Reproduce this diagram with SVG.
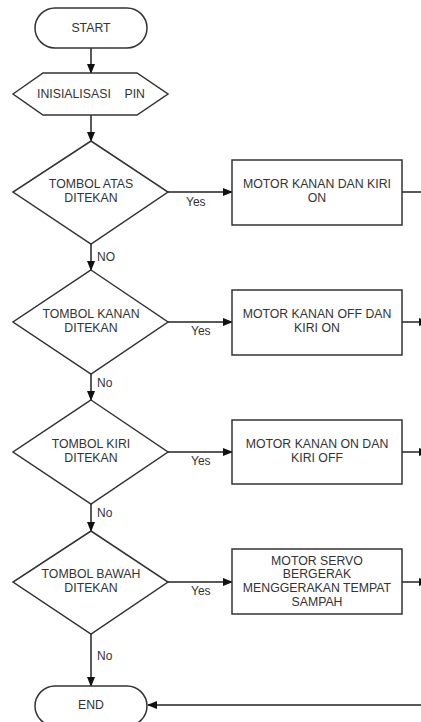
<svg xmlns="http://www.w3.org/2000/svg" width="421" height="722" viewBox="0 0 421 722">
<defs>
<style>
.s{fill:#fff;stroke:#333;stroke-width:1.5}
.t{font-family:"Liberation Sans",Arial,sans-serif;font-size:12.3px;fill:#333;text-anchor:middle}
.l{font-family:"Liberation Sans",Arial,sans-serif;font-size:12px;fill:#333}
.c{fill:none;stroke:#222;stroke-width:1.5}
</style>
<marker id="a" markerWidth="10" markerHeight="8" refX="9" refY="4" orient="auto" markerUnits="userSpaceOnUse">
<path d="M0,0 L10,4 L0,8 Z" fill="#111"/>
</marker>
</defs>
<rect width="421" height="722" fill="#fff"/>
<g id="connectors">
<line class="c" x1="91" y1="48" x2="91" y2="73" marker-end="url(#a)"/>
<line class="c" x1="91" y1="115" x2="91" y2="141" marker-end="url(#a)"/>
<line class="c" x1="168" y1="192" x2="232" y2="192" marker-end="url(#a)"/>
<line class="c" x1="402" y1="192" x2="422" y2="192"/>
<line class="c" x1="91" y1="244" x2="91" y2="270" marker-end="url(#a)"/>
<line class="c" x1="168" y1="322" x2="232" y2="322" marker-end="url(#a)"/>
<line class="c" x1="402" y1="322" x2="428" y2="322" marker-end="url(#a)"/>
<line class="c" x1="91" y1="374" x2="91" y2="400" marker-end="url(#a)"/>
<line class="c" x1="168" y1="452" x2="232" y2="452" marker-end="url(#a)"/>
<line class="c" x1="402" y1="452" x2="428" y2="452" marker-end="url(#a)"/>
<line class="c" x1="91" y1="504" x2="91" y2="531" marker-end="url(#a)"/>
<line class="c" x1="168" y1="582" x2="232" y2="582" marker-end="url(#a)"/>
<line class="c" x1="402" y1="582" x2="428" y2="582" marker-end="url(#a)"/>
<line class="c" x1="91" y1="634" x2="91" y2="686" marker-end="url(#a)"/>
<line class="c" x1="422" y1="705" x2="148" y2="705" marker-end="url(#a)"/>
<text class="l" x="186" y="206">Yes</text>
<text class="l" x="97" y="261">NO</text>
<text class="l" x="191" y="335">Yes</text>
<text class="l" x="97" y="387">No</text>
<text class="l" x="191" y="465">Yes</text>
<text class="l" x="97" y="517">No</text>
<text class="l" x="191" y="595">Yes</text>
<text class="l" x="97" y="660">No</text>
</g>
<g id="start">
<rect class="s" x="35" y="8" width="112" height="40" rx="20"/>
<text class="t" x="91" y="32">START</text>
</g>
<g id="init">
<polygon class="s" points="13,94 43,73 137,73 168,94 137,115 43,115"/>
<text class="t" x="91" y="98" xml:space="preserve">INISIALISASI    PIN</text>
</g>
<g id="d1">
<polygon class="s" points="91,141 168,192 91,244 13,192"/>
<text class="t" x="91" y="188">TOMBOL ATAS</text>
<text class="t" x="91" y="202">DITEKAN</text>
</g>
<g id="b1">
<rect class="s" x="232" y="160" width="170" height="65"/>
<text class="t" x="317" y="188">MOTOR KANAN DAN KIRI</text>
<text class="t" x="317" y="202">ON</text>
</g>
<g id="d2">
<polygon class="s" points="91,270 168,322 91,374 13,322"/>
<text class="t" x="91" y="318">TOMBOL KANAN</text>
<text class="t" x="91" y="332">DITEKAN</text>
</g>
<g id="b2">
<rect class="s" x="232" y="290" width="170" height="65"/>
<text class="t" x="317" y="318">MOTOR KANAN OFF DAN</text>
<text class="t" x="317" y="332">KIRI ON</text>
</g>
<g id="d3">
<polygon class="s" points="91,400 168,452 91,504 13,452"/>
<text class="t" x="91" y="448">TOMBOL KIRI</text>
<text class="t" x="91" y="462">DITEKAN</text>
</g>
<g id="b3">
<rect class="s" x="232" y="420" width="170" height="64"/>
<text class="t" x="317" y="448">MOTOR KANAN ON DAN</text>
<text class="t" x="317" y="462">KIRI OFF</text>
</g>
<g id="d4">
<polygon class="s" points="91,531 168,582 91,634 13,582"/>
<text class="t" x="91" y="578">TOMBOL BAWAH</text>
<text class="t" x="91" y="592">DITEKAN</text>
</g>
<g id="b4">
<rect class="s" x="232" y="549" width="170" height="65"/>
<text class="t" x="317" y="565">MOTOR SERVO</text>
<text class="t" x="317" y="578">BERGERAK</text>
<text class="t" x="317" y="592">MENGGERAKAN TEMPAT</text>
<text class="t" x="317" y="606">SAMPAH</text>
</g>
<g id="end">
<rect class="s" x="35" y="686" width="112" height="40" rx="20"/>
<text class="t" x="91" y="709">END</text>
</g>
</svg>
